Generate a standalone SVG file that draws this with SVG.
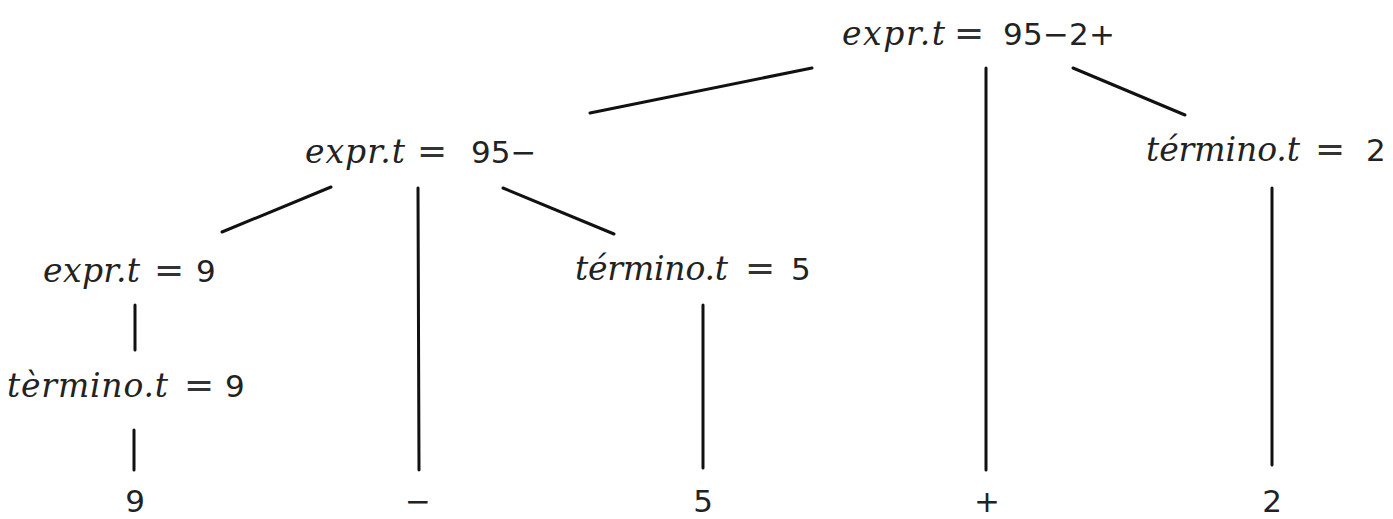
<svg xmlns="http://www.w3.org/2000/svg" width="1393" height="519" viewBox="0 0 1393 519">
<style>
.i{font-family:"DejaVu Serif","Liberation Serif",serif;font-style:italic;font-size:33px;fill:#222}
.q{font-family:"DejaVu Sans","Liberation Sans",sans-serif;font-size:36px;fill:#333}
.n{font-family:"DejaVu Sans","Liberation Sans",sans-serif;font-size:31px;fill:#222}
.e{stroke:#111;stroke-width:3;stroke-linecap:round;fill:none}
</style>
<rect width="1393" height="519" fill="#fff"/>
<g id="connectors">
<line class="e" x1="590" y1="113" x2="812" y2="68"/>
<line class="e" x1="986" y1="68" x2="986" y2="470"/>
<line class="e" x1="1073" y1="68" x2="1185" y2="115"/>
<line class="e" x1="222" y1="232" x2="331" y2="187"/>
<line class="e" x1="418" y1="188" x2="419" y2="470"/>
<line class="e" x1="503" y1="188" x2="614" y2="234"/>
<line class="e" x1="135" y1="305" x2="135" y2="350"/>
<line class="e" x1="134" y1="430" x2="134" y2="470"/>
<line class="e" x1="703" y1="305" x2="703" y2="468"/>
<line class="e" x1="1272" y1="188" x2="1272" y2="465"/>
</g>
<g id="n-root"><text class="i" x="842" y="45" textLength="103">expr.t</text><text class="q" x="954" y="45">=</text><text class="n" x="1003" y="45" textLength="112">95−2+</text></g>
<g id="n-expr95"><text class="i" x="305" y="163" textLength="100">expr.t</text><text class="q" x="417" y="163">=</text><text class="n" x="471" y="163">95−</text></g>
<g id="n-term2"><text class="i" x="1146" y="161" textLength="154">término.t</text><text class="q" x="1315" y="161">=</text><text class="n" x="1366" y="161">2</text></g>
<g id="n-expr9"><text class="i" x="43" y="282" textLength="97">expr.t</text><text class="q" x="154" y="282">=</text><text class="n" x="196" y="282">9</text></g>
<g id="n-term5"><text class="i" x="575" y="280" textLength="153">término.t</text><text class="q" x="745" y="280">=</text><text class="n" x="791" y="280">5</text></g>
<g id="n-term9"><text class="i" x="7" y="397" textLength="161">tèrmino.t</text><text class="q" x="184" y="397">=</text><text class="n" x="225" y="397">9</text></g>
<g id="n-9"><text class="n" x="135" y="512" text-anchor="middle">9</text></g>
<g id="n-minus"><text class="n" x="418" y="512" text-anchor="middle">−</text></g>
<g id="n-5"><text class="n" x="703" y="512" text-anchor="middle">5</text></g>
<g id="n-plus"><text class="n" x="987" y="512" text-anchor="middle">+</text></g>
<g id="n-2"><text class="n" x="1272" y="512" text-anchor="middle">2</text></g>
</svg>
